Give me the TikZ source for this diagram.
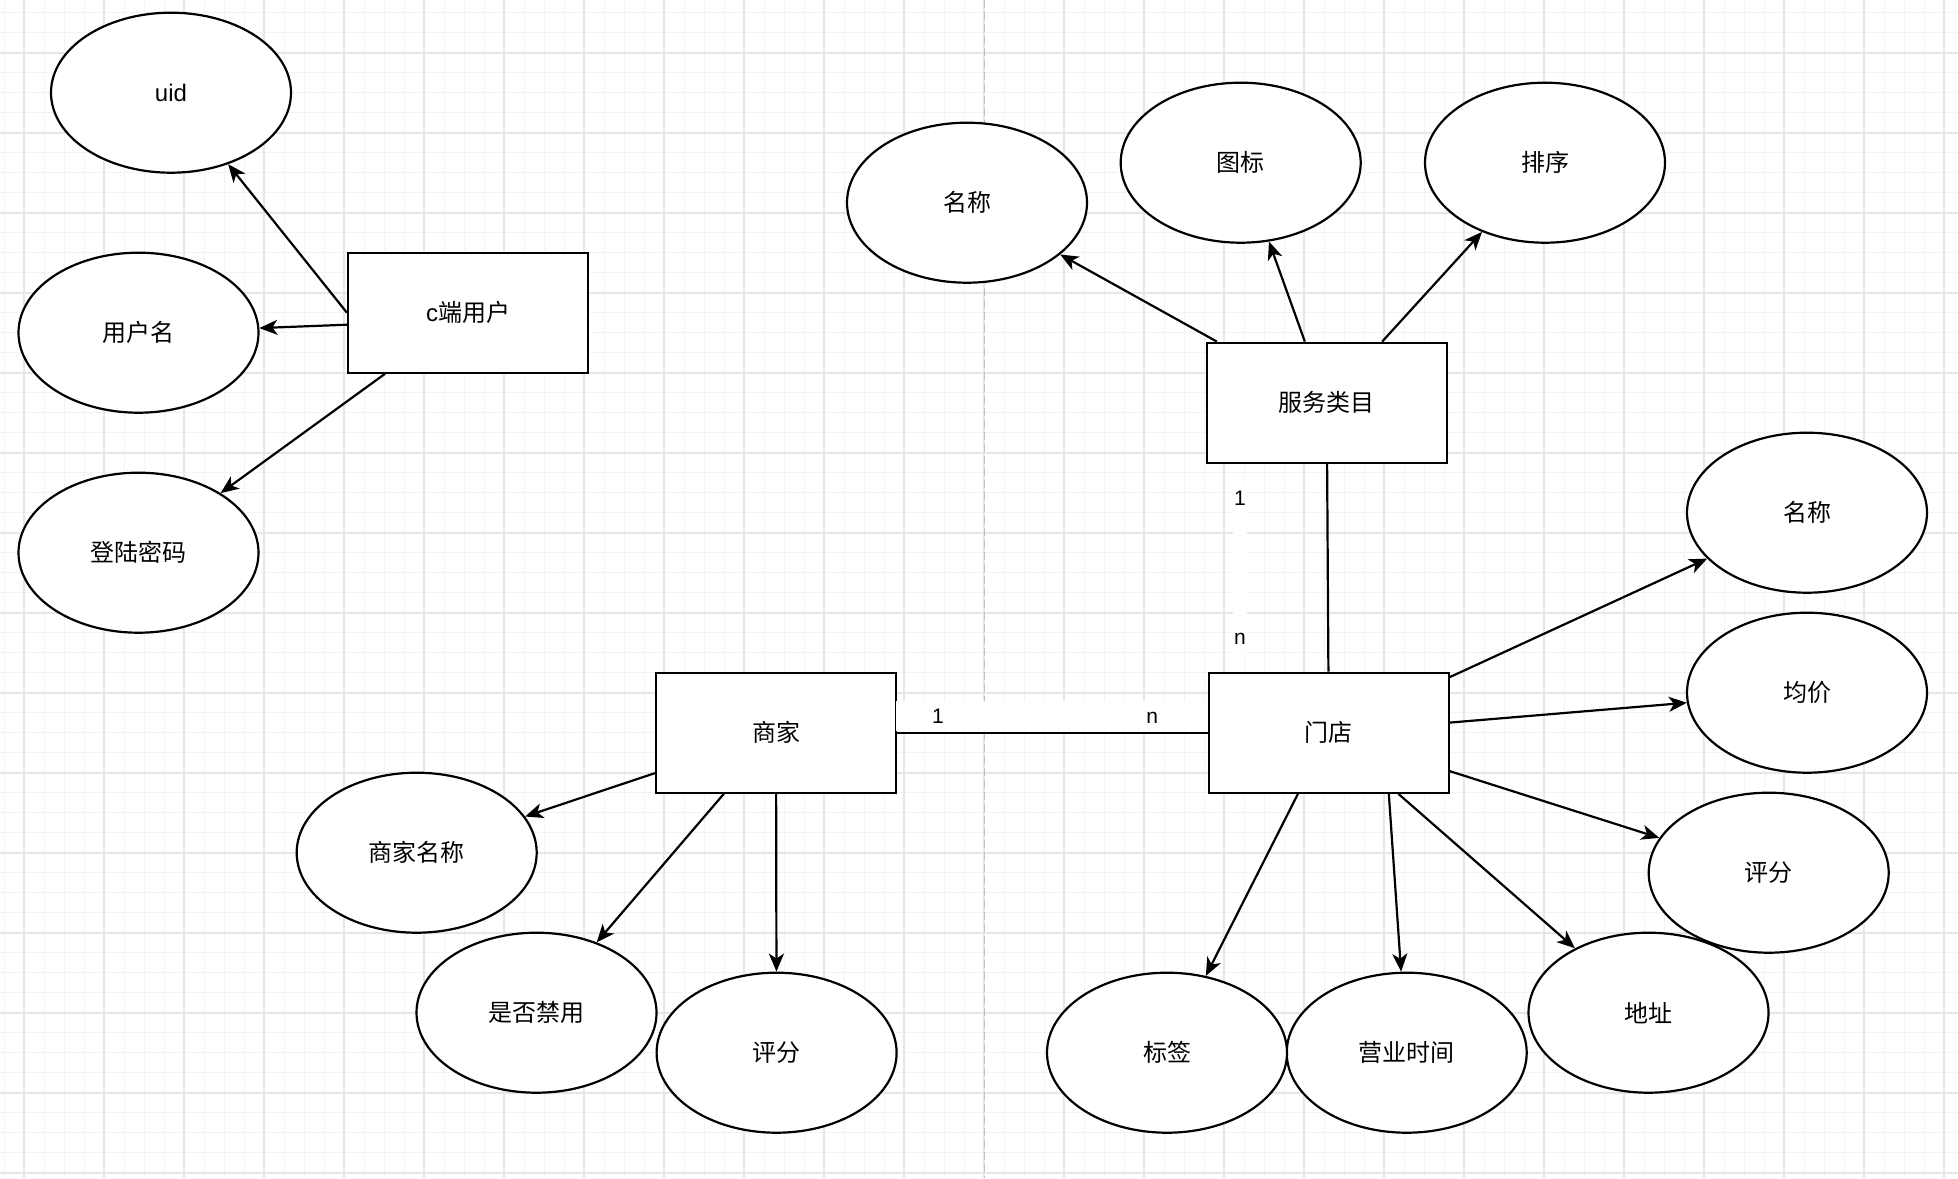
\documentclass[tikz,border=0pt]{standalone}
\usepackage{fontspec}
\setmainfont{Liberation Sans}
\newfontfamily\cjk{Noto Sans CJK SC}
\tikzset{
every picture/.style={
line width=2.2pt
}}
\usepackage{tikz}
\usetikzlibrary{shapes.geometric,arrows.meta}
\definecolor{gridminor}{HTML}{F3F3F3}
\definecolor{gridmajor}{HTML}{E6E6E6}
\definecolor{pagebreak}{HTML}{C0C0C0}

\begin{document}
\begin{tikzpicture}[x=1pt, y=-1pt, >={Stealth[length=18pt,width=15pt,inset=5pt]},
attr/.style = {ellipse, draw=black, fill=white, minimum width=240pt, minimum height=160pt, inner sep=0pt, font=\fontsize{24}{28}\selectfont},
entity/.style = {rectangle, draw=black, fill=white, minimum width=240pt, minimum height=120pt, inner sep=0pt, font=\fontsize{24}{28}\selectfont},
card/.style = {fill=white, inner sep=0pt, font=\fontsize{21}{25}\selectfont}]
\useasboundingbox (0,0) rectangle (1958,1178);
\fill[white] (0,0) rectangle (1958,1178);
% grid
\foreach \x in {4,24,...,1944} \draw[gridminor, line width=1pt] (\x,0) -- (\x,1178);
\foreach \y in {12.7,32.7,...,1173} \draw[gridminor, line width=1pt] (0,\y) -- (1958,\y);
\foreach \x in {24,104,...,1944} \draw[gridmajor, line width=2pt] (\x,0) -- (\x,1178);
\foreach \y in {52.7,132.7,...,1173} \draw[gridmajor, line width=2pt] (0,\y) -- (1958,\y);
\draw[pagebreak, line width=1.5pt, dash pattern=on 8pt off 4pt] (984.5,0) -- (984.5,1178);

\node[attr] at (171,92.7) (uid) {uid};
\node[attr] at (138.5,332.7) (un) {\cjk 用户名};
\node[attr] at (138.5,552.7) (pw) {\cjk 登陆密码};
\node[entity] at (468,312.7) (cu) {c{\cjk 端用户}};

\node[attr] at (967,202.7) (cn) {\cjk 名称};
\node[attr] at (1240.7,162.7) (ic) {\cjk 图标};
\node[attr] at (1545,162.7) (so) {\cjk 排序};
\node[entity] at (1326.7,402.7) (cat) {\cjk 服务类目};

\node[entity] at (1328.8,732.7) (st) {\cjk 门店};
\node[attr] at (1807,512.7) (sn) {\cjk 名称};
\node[attr] at (1807,692.7) (pr) {\cjk 均价};
\node[attr] at (1768.7,872.7) (sr) {\cjk 评分};
\node[attr] at (1648.5,1012.7) (ad) {\cjk 地址};
\node[attr] at (1406.7,1052.7) (ho) {\cjk 营业时间};
\node[attr] at (1167,1052.7) (tg) {\cjk 标签};

\node[entity] at (776,732.7) (me) {\cjk 商家};
\node[attr] at (416.7,852.7) (mn) {\cjk 商家名称};
\node[attr] at (536.5,1012.7) (bn) {\cjk 是否禁用};
\node[attr] at (776.6,1052.7) (mr) {\cjk 评分};

\draw[->] (cu.west) --(uid);
\draw[->] ([yshift=-12pt]cu.west) --(un);
\draw[->] ([xshift=-83pt]cu.south) --(pw);

\draw[->] (cat) --(cn);
\draw[->] (cat) --(ic);
\draw[->] (cat) --(so);
\draw[-] (cat) --(st);

\draw[->] (st) --(sn);
\draw[->] (st) --(pr);
\draw[->] (st) --(sr);
\draw[->] (st) --(ad);
\draw[->] ([xshift=60pt]st.south) --(ho);
\draw[->] (st) --(tg);

\draw[-] (me) --(st);
\draw[->] (me) --(mn);
\draw[->] (me) --(bn);
\draw[->] (me) --(mr);

\node[card, minimum height=30pt] at (1052,716) (mscard) {\makebox[312pt][l]{\hspace{36pt}1\hfill n\hspace{50pt}}};
\node[card, minimum height=170pt, minimum width=14pt, align=center] at (1240,568) (cscard) {1\\[114pt]n};
\end{tikzpicture}
\end{document}
